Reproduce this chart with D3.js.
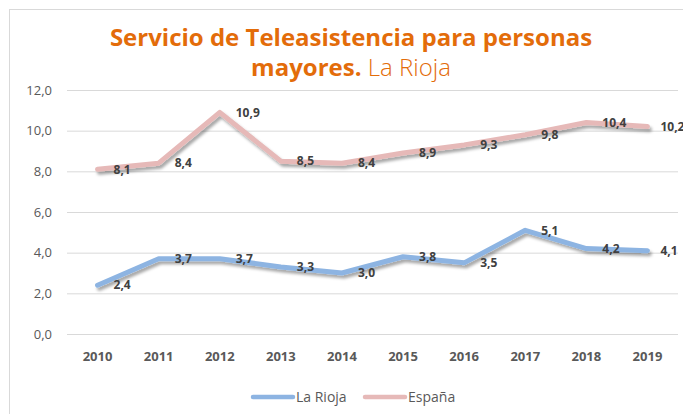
<!DOCTYPE html>
<html><head><meta charset="utf-8">
<script src="https://cdn.jsdelivr.net/npm/d3@7"></script>
<style>
html,body{margin:0;padding:0;background:#fff;overflow:hidden}
svg{display:block}
</style></head>
<body>
<script>
const years = ["2010","2011","2012","2013","2014","2015","2016","2017","2018","2019"];
const laRioja = [2.4,3.7,3.7,3.3,3.0,3.8,3.5,5.1,4.2,4.1];
const espana = [8.1,8.4,10.9,8.5,8.4,8.9,9.3,9.8,10.4,10.2];
const yTicks = [0,2,4,6,8,10,12];
const seriesNames = ["La Rioja","España"];
const seriesColors = ["#8db4e2","#e6b9b8"];

const W = 683, H = 414;
const svg = d3.select("body").append("svg").attr("width", W).attr("height", H);

const defs = svg.append("defs");
const f = defs.append("filter").attr("id","shadow").attr("x","-10%").attr("y","-30%").attr("width","130%").attr("height","180%");
f.append("feDropShadow").attr("dx",2).attr("dy",3).attr("stdDeviation",1.5)
  .attr("flood-color","#000").attr("flood-opacity",0.35);

// frame
svg.append("rect").attr("x",9.5).attr("y",9.5).attr("width",720).attr("height",430)
  .attr("fill","#fff").attr("stroke","#d9d9d9").attr("stroke-width",1);

const x = d3.scaleBand().domain(years).range([67, 678]);
const y = d3.scaleLinear().domain([0,12]).range([334, 90]);

// gridlines
const yAxis = d3.axisLeft(y).tickValues(yTicks).tickSize(-(678-67)).tickPadding(15)
  .tickFormat(d => d3.format(".1f")(d).replace(".", ","));
const gy = svg.append("g").attr("transform","translate(67,0)").call(yAxis);
gy.select(".domain").remove();
gy.selectAll(".tick line").attr("stroke","#d9d9d9").attr("stroke-width",1);
gy.selectAll(".tick text").attr("fill","#595959").style("font-family","'Open Sans', sans-serif").style("font-size","13px");

const xAxis = d3.axisBottom(x).tickSize(0).tickPadding(18);
const gx = svg.append("g").attr("transform","translate(0,334)").call(xAxis);
gx.select(".domain").remove();
gx.selectAll(".tick text").attr("fill","#595959").style("font-family","'Open Sans', sans-serif")
  .style("font-size","13px").style("font-weight","bold");

const line = d3.line().x((d,i) => x(years[i]) + x.bandwidth()/2).y(d => y(d));

[laRioja, espana].forEach((vals, si) => {
  svg.append("path").datum(vals).attr("d", line).attr("fill","none")
    .attr("stroke", seriesColors[si]).attr("stroke-width",5)
    .attr("stroke-linejoin","round").attr("stroke-linecap","round")
    .attr("filter","url(#shadow)");
});

[laRioja, espana].forEach((vals) => {
  svg.append("g").selectAll("text").data(vals).join("text")
    .attr("x", (d,i) => x(years[i]) + x.bandwidth()/2 + (i === 9 ? 13 : 16))
    .attr("y", d => y(d))
    .attr("dy","0.35em")
    .attr("fill","#404040")
    .style("font-family","'Open Sans', sans-serif").style("font-size","12px").style("font-weight","bold")
    .text(d => d3.format(".1f")(d).replace(".", ","));
});

// title
const title = svg.append("text").attr("text-anchor","middle").attr("fill","#e36c0a")
  .style("font-family","'Open Sans', sans-serif").style("font-size","24px");
title.append("tspan").attr("x",351).attr("y",46).style("font-weight","bold").text("Servicio de Teleasistencia para personas");
title.append("tspan").attr("x",351).attr("y",76).style("font-weight","bold").text("mayores.");
title.append("tspan").style("font-weight","300").text(" La Rioja");

// legend
const legend = svg.append("g");
const legItems = [{x:253, tx:296},{x:365, tx:408}];
seriesNames.forEach((n, i) => {
  legend.append("line").attr("x1",legItems[i].x).attr("x2",legItems[i].x+40)
    .attr("y1",397).attr("y2",397).attr("stroke",seriesColors[i]).attr("stroke-width",4.5)
    .attr("stroke-linecap","round");
  legend.append("text").attr("x",legItems[i].tx).attr("y",397).attr("dy","0.35em")
    .attr("fill","#595959").style("font-family","'Open Sans', sans-serif").style("font-size","14px")
    .text(n);
});
</script>
</body></html>
